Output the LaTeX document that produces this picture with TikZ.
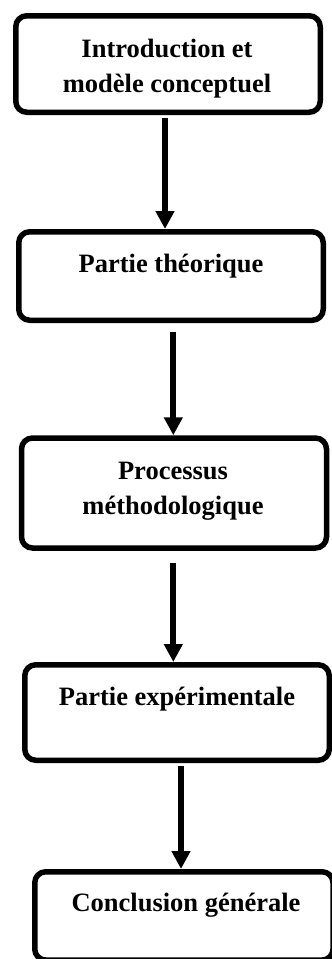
\documentclass[tikz,border=0pt]{standalone}
\usepackage{fontspec}
\setmainfont{Liberation Serif}
\usepackage{tikz}
\usetikzlibrary{arrows.meta}
\tikzstyle{Box}=[draw,rounded corners=11pt,line width=5.5pt,inner sep=0pt]
\tikzstyle{Arrow}=[draw,line width=6pt,-{Triangle[width=18pt,length=18pt]}]
\tikzstyle{NodeST}=[font=\fontsize{26.5}{35.5}\selectfont\bfseries,
align=center,inner sep=0pt]

\begin{document}
\begin{tikzpicture}[x=1pt,y=-1pt]
        \useasboundingbox(0,0)rectangle(332,959);
        \clip(0,0)rectangle(332,959);
        \node[Box,minimum width=304.5pt,minimum height=96.5pt](1)at(168,64){};
        \node[Box,minimum width=304.5pt,minimum height=88.5pt](2)at(171,276){};
        \node[Box,minimum width=305pt,minimum height=110pt](3)at(174,493){};
        \node[Box,minimum width=304.5pt,minimum height=95.5pt](4)at(177,712.5){};
        \node[Box,minimum width=298.3pt,minimum height=88.3pt](5)at(183.9,915.9){};
        \node[NodeST](t1)at(167,68.4){Introduction et\\modèle conceptuel};
        \node[NodeST,anchor=base](t2)at(171,272.7){Partie théorique};
        \node[NodeST](t3)at(173,491){Processus\\méthodologique};
        \node[NodeST,anchor=base](t4)at(177,705){Partie expérimentale};
        \node[NodeST,anchor=base](t5)at(186,911.7){Conclusion générale};
        \coordinate(a1)at(165,118);
        \coordinate(a2)at(173.3,331.7);
        \coordinate(a3)at(173.3,562.7);
        \coordinate(a4)at(181,766);
        \draw[Arrow](a1)--(a1|-2.north);
        \draw[Arrow](a2)--(a2|-3.north);
        \draw[Arrow](a3)--(a3|-4.north);
        \draw[Arrow](a4)--(a4|-5.north);
    \end{tikzpicture}
\end{document}
